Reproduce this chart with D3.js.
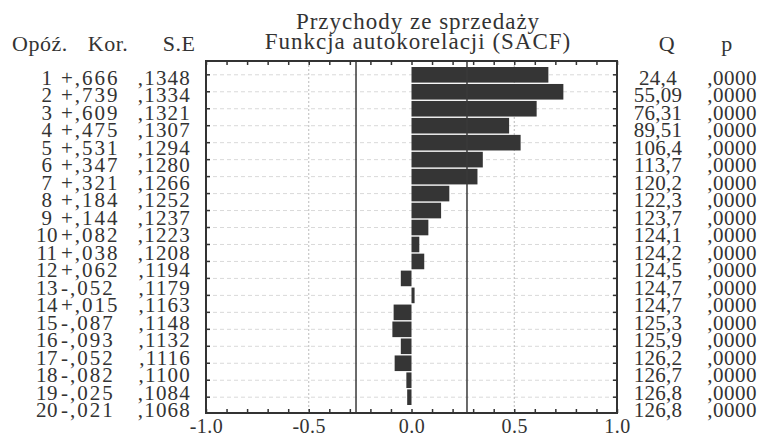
<!DOCTYPE html>
<html>
<head>
<meta charset="utf-8">
<script src="https://cdn.jsdelivr.net/npm/d3@7"></script>
<style>
    body { margin: 0; background: #fff; }
    svg { display: block; }
    text { font-family: "Liberation Serif", "Times New Roman", serif; fill: #333; }
</style>
</head>
<body>
<div id="chart"></div>
<script>
// Autocorrelation (SACF) of sales revenue, lags 1..20

const lags = d3.range(1, 21);
const kor = [0.666, 0.739, 0.609, 0.475, 0.531, 0.347, 0.321, 0.184, 0.144, 0.082,
             0.038, 0.062, -0.052, 0.015, -0.087, -0.093, -0.052, -0.082, -0.025, -0.021];
const se = [0.1348, 0.1334, 0.1321, 0.1307, 0.1294, 0.1280, 0.1266, 0.1252, 0.1237, 0.1223,
            0.1208, 0.1194, 0.1179, 0.1163, 0.1148, 0.1132, 0.1116, 0.1100, 0.1084, 0.1068];
const qStat = [24.4, 55.09, 76.31, 89.51, 106.4, 113.7, 120.2, 122.3, 123.7, 124.1,
               124.2, 124.5, 124.7, 124.7, 125.3, 125.9, 126.2, 126.7, 126.8, 126.8];
const pVal = [0, 0, 0, 0, 0, 0, 0, 0, 0, 0, 0, 0, 0, 0, 0, 0, 0, 0, 0, 0];
const xTicks = [-1, -0.5, 0, 0.5, 1];
const gridLines = [-0.5, 0.5];
const confLimit = 0.27;
const titleLines = ['Przychody ze sprzedaży', 'Funkcja autokorelacji (SACF)'];

const width = 760, height = 437;
const plot = { left: 206, right: 617, top: 61, bottom: 413 };

const svg = d3.select('#chart').append('svg')
    .attr('width', width)
    .attr('height', height);

const x = d3.scaleLinear().domain([-1, 1]).range([plot.left, plot.right]);
const y = d3.scaleBand().domain(lags).range([67, 405]).paddingInner(0.08);
// table rows sit a little looser than the bars
const rowY = d3.scalePoint().domain(lags).range([85, 417]);

// helpers for the Polish-style number strings
const fmtKor = v => (v >= 0 ? '+' : '-') + ',' + Math.abs(v).toFixed(3).slice(2);
const fmtSe = v => ',' + v.toFixed(4).slice(2);
const fmtQ = v => d3.format('.4~r')(v).replace('.', ',');
const fmtP = v => ',' + v.toFixed(4).slice(2);

// title
svg.selectAll('.title')
    .data(titleLines)
    .enter().append('text')
    .attr('class', 'title')
    .attr('x', 418)
    .attr('y', (d, i) => 29 + i * 20)
    .attr('text-anchor', 'middle')
    .style('font-size', '23px')
    .style('letter-spacing', '1px')
    .text(d => d);

// column headers
const headers = [
    { t: 'Opóź.', x: 12, anchor: 'start' },
    { t: 'Kor.', x: 108, anchor: 'middle' },
    { t: 'S.E', x: 179, anchor: 'middle' },
    { t: 'Q', x: 667, anchor: 'middle' },
    { t: 'p', x: 727, anchor: 'middle' }
];
svg.selectAll('.header')
    .data(headers)
    .enter().append('text')
    .attr('class', 'header')
    .attr('x', d => d.x)
    .attr('y', 51)
    .attr('text-anchor', d => d.anchor)
    .style('font-size', '22px')
    .style('letter-spacing', '0.5px')
    .text(d => d.t);

// gridlines behind the bars
const g = svg.append('g');

g.selectAll('.row-line')
    .data(lags)
    .enter().append('line')
    .attr('x1', plot.left)
    .attr('x2', plot.right)
    .attr('y1', d => y(d) + y.bandwidth() / 2)
    .attr('y2', d => y(d) + y.bandwidth() / 2)
    .attr('stroke', '#d9d9d9')
    .attr('stroke-dasharray', '4,3');

g.selectAll('.grid-v')
    .data(gridLines)
    .enter().append('line')
    .attr('x1', d => x(d))
    .attr('x2', d => x(d))
    .attr('y1', plot.top)
    .attr('y2', plot.bottom)
    .attr('stroke', '#bbb')
    .attr('stroke-dasharray', '2,2');

// bars
g.selectAll('.bar')
    .data(lags)
    .enter().append('rect')
    .attr('class', 'bar')
    .attr('x', d => Math.min(x(0), x(kor[d - 1])))
    .attr('y', d => y(d))
    .attr('width', d => Math.abs(x(kor[d - 1]) - x(0)))
    .attr('height', y.bandwidth())
    .attr('fill', '#353535');

// confidence limits
g.selectAll('.conf')
    .data([-confLimit, confLimit])
    .enter().append('line')
    .attr('x1', d => x(d))
    .attr('x2', d => x(d))
    .attr('y1', plot.top)
    .attr('y2', plot.bottom)
    .attr('stroke', '#3a3a3a')
    .attr('stroke-width', 1.5);

// minor ticks on top and bottom, pointing inward
const minor = d3.range(-10, 11).map(i => i / 10);
svg.append('g')
    .attr('transform', `translate(0,${plot.bottom})`)
    .call(d3.axisBottom(x).tickValues(minor).tickSize(-4).tickFormat(''))
    .call(a => a.select('.domain').remove())
    .selectAll('line').attr('stroke', '#333').attr('stroke-width', 1.5);
svg.append('g')
    .attr('transform', `translate(0,${plot.top})`)
    .call(d3.axisTop(x).tickValues(minor).tickSize(-4).tickFormat(''))
    .call(a => a.select('.domain').remove())
    .selectAll('line').attr('stroke', '#333').attr('stroke-width', 1.5);

// row ticks on the sides
svg.selectAll('.ytick-l')
    .data(lags)
    .enter().append('line')
    .attr('x1', plot.left)
    .attr('x2', plot.left + 4)
    .attr('y1', d => y(d) + y.bandwidth() / 2)
    .attr('y2', d => y(d) + y.bandwidth() / 2)
    .attr('stroke', '#333')
    .attr('stroke-width', 1.5);
svg.selectAll('.ytick-r')
    .data(lags)
    .enter().append('line')
    .attr('x1', plot.right - 4)
    .attr('x2', plot.right)
    .attr('y1', d => y(d) + y.bandwidth() / 2)
    .attr('y2', d => y(d) + y.bandwidth() / 2)
    .attr('stroke', '#333')
    .attr('stroke-width', 1.5);

// frame
svg.append('rect')
    .attr('x', plot.left)
    .attr('y', plot.top)
    .attr('width', plot.right - plot.left)
    .attr('height', plot.bottom - plot.top)
    .attr('fill', 'none')
    .attr('stroke', '#333')
    .attr('stroke-width', 2);

// x tick labels (plain hyphen, as in the print)
const xAxis = svg.append('g')
    .attr('transform', `translate(0,${plot.bottom})`)
    .call(d3.axisBottom(x).tickValues(xTicks).tickSize(0).tickPadding(0).tickFormat(d => d.toFixed(1)));
xAxis.select('.domain').remove();
xAxis.selectAll('text')
    .attr('y', 20)
    .attr('dy', 0)
    .style('font-family', '"Liberation Serif", "Times New Roman", serif')
    .style('font-size', '20px')
    .style('letter-spacing', '0.5px')
    .style('fill', '#333');

// table columns
const columns = [
    { f: d => d, x: 47, anchor: 'middle', ls: '0.5px' },
    { f: d => fmtKor(kor[d - 1]), x: 61, anchor: 'start', ls: '2px' },
    { f: d => fmtSe(se[d - 1]), x: 191, anchor: 'end', ls: '1.2px' },
    { f: d => fmtQ(qStat[d - 1]), x: 658, anchor: 'middle', ls: '0.3px' },
    { f: d => fmtP(pVal[d - 1]), x: 757, anchor: 'end', ls: '0.5px' }
];
columns.forEach(col => {
    svg.append('g').selectAll('text')
        .data(lags)
        .enter().append('text')
        .attr('x', col.x)
        .attr('y', d => rowY(d))
        .attr('text-anchor', col.anchor)
        .style('font-size', '21px')
        .style('letter-spacing', col.ls)
        .text(col.f);
});
</script>
</body>
</html>
